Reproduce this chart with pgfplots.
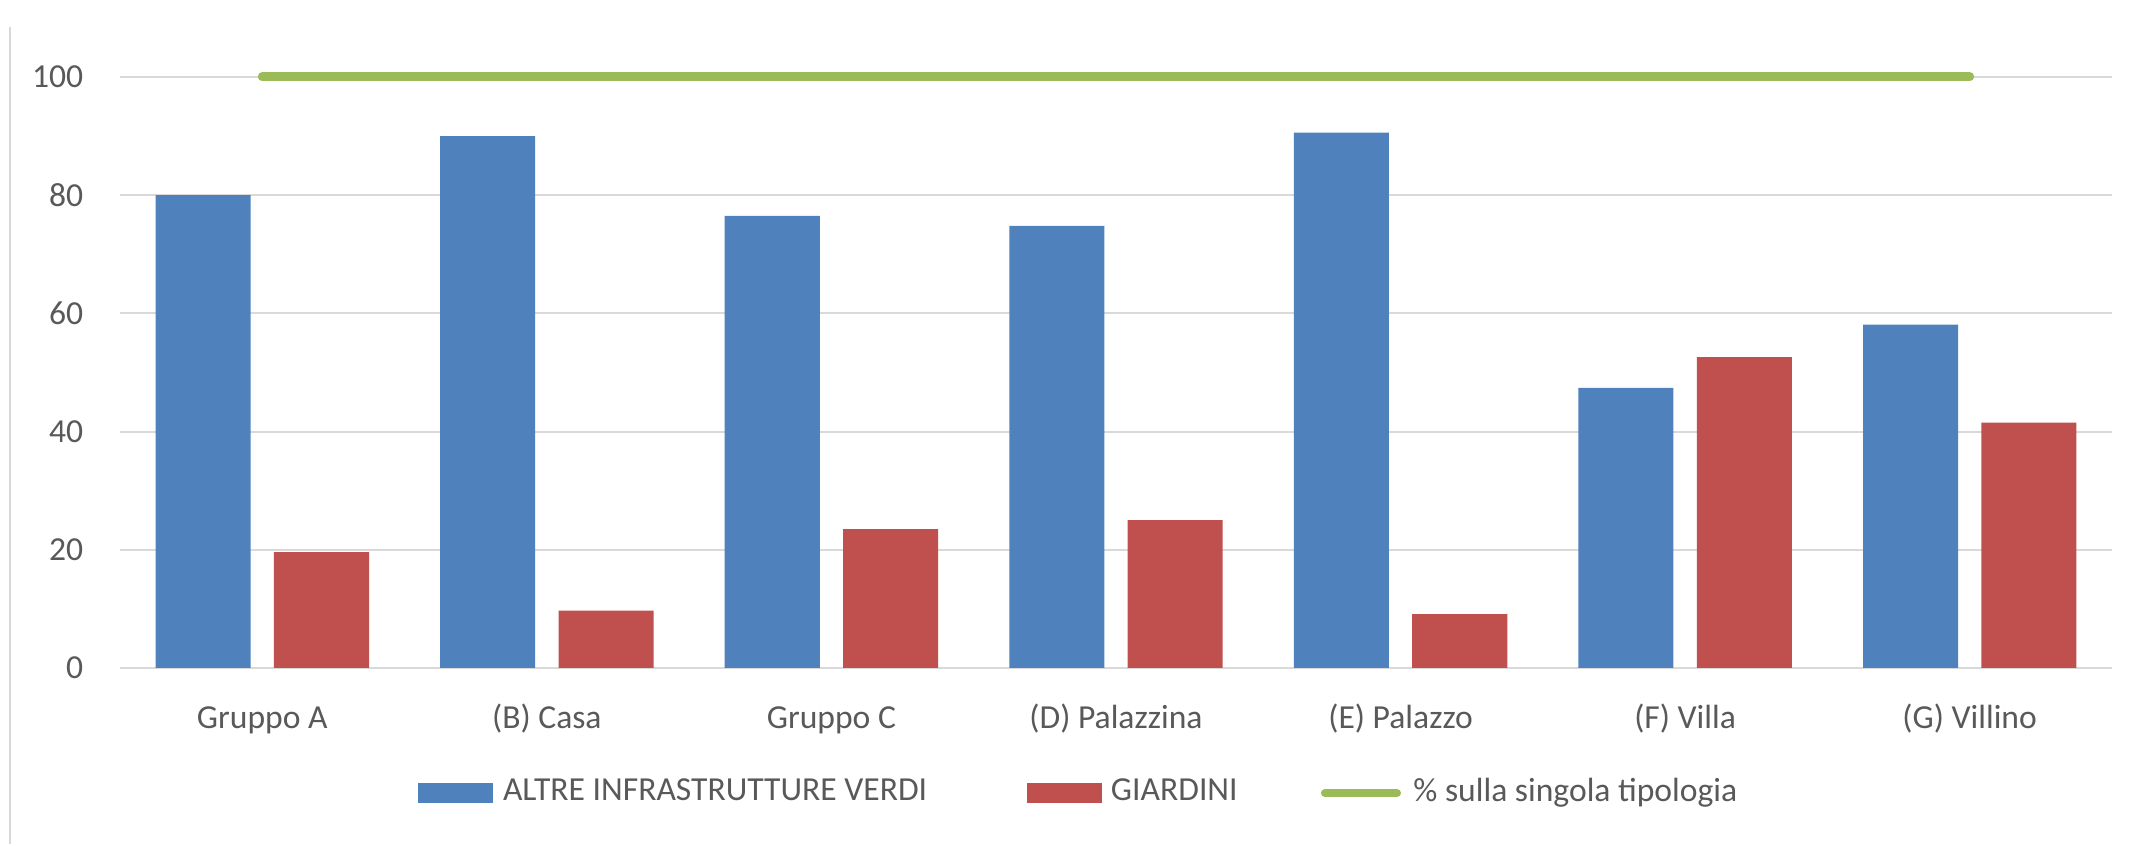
\documentclass[border=0pt]{standalone}
\usepackage{pgfplots}
\pgfplotsset{compat=1.18}
\usepackage{fontspec}
\setmainfont{Carlito}
\definecolor{cblue}{HTML}{4F81BD}
\definecolor{cred}{HTML}{C0504D}
\definecolor{cgreen}{HTML}{9BBB59}
\definecolor{cgrid}{HTML}{D9D9D9}
\definecolor{ctext}{HTML}{595959}
\newcommand\lbl{\fontsize{8.4}{10}\selectfont}
\begin{document}
\begin{tikzpicture}
\path[use as bounding box] (0,0) rectangle (533.5pt,211.5pt);
\draw[cgrid, line width=0.5pt] (2.5pt,0.5pt) -- (2.5pt,204.75pt);
\begin{axis}[
  at={(30pt,44.5pt)}, anchor=south west,
  scale only axis, width=498pt, height=147.75pt,
  xmin=-0.5, xmax=6.5, ymin=0, ymax=100,
  clip=false,
  axis line style={draw=none},
  major tick length=0pt,
  tick style={draw=none},
  ymajorgrids, grid style={cgrid, line width=0.5pt},
  xtick={0,1,2,3,4,5,6},
  xticklabels={Gruppo A,(B) Casa,Gruppo C,(D) Palazzina,(E) Palazzo,(F) Villa,(G) Villino},
  ytick={0,20,40,60,80,100},
  tick label style={font=\lbl, text=ctext},
  /pgf/number format/assume math mode=true,
  yticklabel style={inner sep=0pt, anchor=east, xshift=-9pt},
  xticklabel style={anchor=base, yshift=-15.25pt},
  legend columns=3,
  legend cell align=left,
  legend style={at={(0.1496,-0.2115)}, anchor=west, draw=none, fill=none,
    inner sep=0pt, outer sep=0pt, column sep=0pt,
    nodes={inner sep=0pt, font=\lbl, text=ctext}},
]
\addplot[ybar, bar width=0.334, bar shift=-0.208, fill=cblue, draw=none,
  legend image code/.code={\fill[cblue] (0pt,-2.425pt) rectangle (18.75pt,2.425pt); \path (21.25pt,0pt);}]
  coordinates {(0,80) (1,90) (2,76.5) (3,74.8) (4,90.6) (5,47.4) (6,58.1)};
\addlegendentry{\makebox[131pt][l]{ALTRE INFRASTRUTTURE VERDI}}
\addplot[ybar, bar width=0.334, bar shift=0.208, fill=cred, draw=none,
  legend image code/.code={\fill[cred] (0pt,-2.425pt) rectangle (18.75pt,2.425pt); \path (21pt,0pt);}]
  coordinates {(0,19.6) (1,9.7) (2,23.5) (3,25) (4,9.1) (5,52.6) (6,41.5)};
\addlegendentry{\makebox[52.5pt][l]{GIARDINI}}
\addplot[cgreen, line width=2.25pt, line cap=round, mark=none,
  legend image code/.code={\draw[cgreen, line width=2pt, line cap=round] (1pt,0pt) -- (19pt,0pt); \path (22pt,0pt);}]
  coordinates {(0,100) (6,100)};
\addlegendentry{\% sulla singola tipologia}
\end{axis}
\end{tikzpicture}
\end{document}
